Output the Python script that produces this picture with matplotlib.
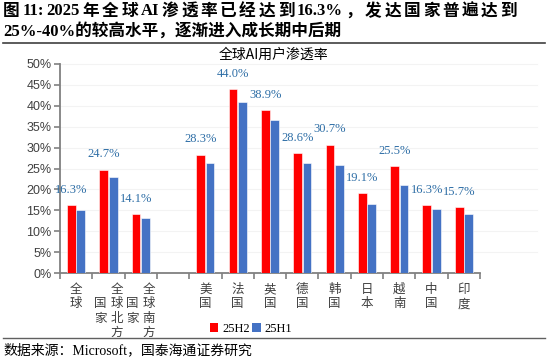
import numpy as np
import matplotlib
matplotlib.use("Agg")
import matplotlib.pyplot as plt
from matplotlib.patches import Patch

# ---- data ----
categories = ['全球', '全球北方国家', '全球南方国家', '', '美国', '法国', '英国',
              '德国', '韩国', '日本', '越南', '中国', '印度']
h2_values = [16.3, 24.7, 14.1, np.nan, 28.3, 44.0, 38.9, 28.6, 30.7, 19.1, 25.5, 16.3, 15.7]
h1_values = [15.1, 23.0, 13.1, np.nan, 26.4, 41.0, 36.5, 26.3, 25.8, 16.5, 21.1, 15.3, 14.1]
series_names = ['25H2', '25H1']
yticks = [0, 5, 10, 15, 20, 25, 30, 35, 40, 45, 50]
ytick_labels = [f'{v}%' for v in yticks]

title_line1_tokens = ['图', '11:', '2025', '年', '全', '球', 'AI', '渗', '透', '率', '已', '经', '达', '到',
                      '16.3%', '，', '发', '达', '国', '家', '普', '遍', '达', '到']
title_line2 = '25%-40%的较高水平，逐渐进入成长期中后期'
chart_title = '全球AI用户渗透率'
source_text = '数据来源：Microsoft，国泰海通证券研究'

RED = '#FF0000'
BLUE = '#4472C4'
LABEL_BLUE = '#2E6EA6'
CJK = 'Noto Sans CJK SC'
SERIF = ['Liberation Serif', CJK]

W, H = 550, 364
fig = plt.figure(figsize=(W / 100, H / 100), dpi=100)
ax = fig.add_axes([60 / W, 1 - 273 / H, 420 / W, (273 - 64) / H])

x = np.arange(len(categories))
bw = 0.27
off = 0.145
ax.bar(x - off, h2_values, width=bw, color=RED, edgecolor='white', linewidth=0.4, zorder=3, label=series_names[0])
ax.bar(x + off, h1_values, width=bw, color=BLUE, edgecolor='white', linewidth=0.4, zorder=3, label=series_names[1])

for xi, v in zip(x, h2_values):
    if np.isnan(v):
        continue
    ax.annotate(f'{v:.1f}%', xy=(xi - off, v), xytext=(0, 11), textcoords='offset points',
                ha='center', va='center', fontsize=9, color=LABEL_BLUE, family=SERIF, zorder=4)

ax.set_xlim(-0.5, len(categories) - 0.5)
ax.set_ylim(0, 50)
ax.set_yticks(yticks)
ax.set_yticklabels(ytick_labels, fontsize=9, color='#404040', family=['Liberation Sans'])
ax.set_xticks(np.arange(len(categories) + 1) - 0.5)
ax.set_xticklabels([])
ax.tick_params(axis='x', direction='out', length=4, color='#808080', width=1.2)
ax.tick_params(axis='y', direction='out', length=4, color='#808080', width=1.2, pad=2)
for s in ['top', 'right']:
    ax.spines[s].set_visible(False)
for s in ['left', 'bottom']:
    ax.spines[s].set_color('#808080')
    ax.spines[s].set_linewidth(1.3)

for yv in yticks[1:]:
    ax.axhline(yv, xmin=0, xmax=(537 - 60) / 420, color='#F3F3F3', linewidth=0.8, zorder=0, clip_on=False)

# vertical category labels
pitch = 10.4  # points
for xi, lab in zip(x, categories):
    if not lab:
        continue
    if len(lab) <= 4:
        cols = [(0.0, lab, 0.0)]
    else:
        right, left = lab[:4], lab[4:]
        cols = [(0.25, right, 0.0), (-0.25, left, (len(right) - len(left)) / 2)]
    for dx, txt, start in cols:
        for i, ch in enumerate(txt):
            ax.annotate(ch, xy=(xi + dx, 0), xycoords=('data', 'axes fraction'),
                        xytext=(0, -7.2 - (start + i) * pitch), textcoords='offset points',
                        ha='center', va='top', fontsize=9, color='#404040', family=CJK)

# title line 1 (justified between x=3 and x=517)
TFS = 12
renderer = fig.canvas.get_renderer()
em_px = TFS * 100 / 72
tok_artists = []
widths = []
for t in title_line1_tokens:
    is_cjk = ord(t[0]) > 0x2E80
    fam = CJK if is_cjk else 'Liberation Serif'
    a = fig.text(0, 1 - 11 / H, t, ha='left', va='center', fontsize=TFS, fontweight='bold',
                 family=fam, color='black')
    tok_artists.append(a)
    widths.append(em_px if is_cjk else a.get_window_extent(renderer).width)
x0, x1 = 3.0, 517.0
gap = (x1 - x0 - sum(widths)) / (len(widths) - 1)
cx = x0
for a, w in zip(tok_artists, widths):
    a.set_x(cx / W)
    cx += w + gap
fig.text(3 / W, 1 - 31 / H, title_line2, ha='left', va='center', fontsize=TFS, fontweight='bold',
         family=SERIF, color='black')
fig.add_artist(plt.Line2D([3 / W, 545 / W], [1 - 43 / H, 1 - 43 / H], color='#404040', linewidth=1.2))
fig.text(273 / W, 1 - 55 / H, chart_title, ha='center', va='center', fontsize=10, family=CJK, color='black')

# legend
handles = [Patch(facecolor=RED), Patch(facecolor=BLUE)]
leg = fig.legend(handles, series_names, loc='center', bbox_to_anchor=(251 / W, 1 - 329 / H), ncol=2,
                 frameon=False, handlelength=0.7, handleheight=0.7, handletextpad=0.3,
                 columnspacing=0.2, borderpad=0, prop={'family': SERIF, 'size': 9})

fig.add_artist(plt.Line2D([3 / W, 545 / W], [1 - 337.5 / H, 1 - 337.5 / H], color='#606060', linewidth=1.0))
fig.text(3 / W, 1 - 350 / H, source_text, ha='left', va='center', fontsize=10, family=SERIF, color='black')

fig.savefig('out.png', dpi=100)
